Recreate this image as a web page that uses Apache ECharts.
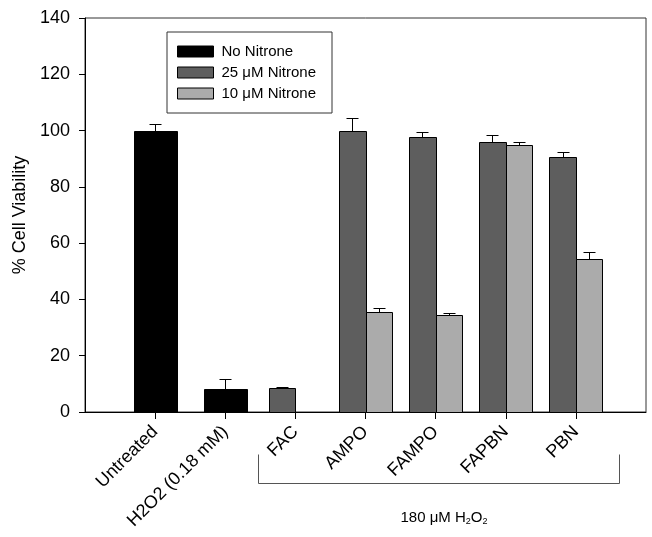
<!DOCTYPE html>
<html>
<head>
<meta charset="utf-8">
<script src="https://cdn.jsdelivr.net/npm/echarts@6/dist/echarts.min.js"></script>
<style>html,body{margin:0;padding:0;background:#fff}#c{width:652px;height:537px}</style>
</head>
<body>
<div id="c"></div>
<script>
const categories = ['Untreated', 'H2O2 (0.18 mM)', 'FAC', 'AMPO', 'FAMPO', 'FAPBN', 'PBN'];
const noNitrone    = [100.0, 8.2, null, null, null, null, null];
const noNitroneErr = [2.2, 3.4, null, null, null, null, null];
const nitrone25    = [null, null, 8.6, 99.7, 97.6, 95.8, 90.5];
const nitrone25Err = [null, null, 0.4, 4.6, 1.9, 2.7, 1.8];
const nitrone10    = [null, null, null, 35.5, 34.4, 94.8, 54.3];
const nitrone10Err = [null, null, null, 1.5, 0.7, 1.3, 2.7];
const yTicks = [0, 20, 40, 60, 80, 100, 120, 140];
const bracketLabel = '180 μM H{s|2}O{s|2}';

const FONT = "'Liberation Sans', Arial, Helvetica, sans-serif";
const C_BLACK = '#000000', C_DARK = '#5e5e5e', C_LIGHT = '#ababab';
const PAIR_W = 0.378, SOLO_W = 0.613;

function toData(vals, errs) {
  const out = [];
  vals.forEach((v, i) => { if (v != null) out.push([i + 1, v, errs[i] || 0]); });
  return out;
}

function barRenderer(off0, off1, color) {
  return function (params, api) {
    const x = api.value(0), y = api.value(1);
    const p0 = api.coord([x + off0, 0]);
    const p1 = api.coord([x + off1, y]);
    return {
      type: 'rect',
      shape: { x: Math.round(p0[0]) + 0.5, y: Math.round(p1[1]) + 0.5,
               width: Math.round(p1[0]) - Math.round(p0[0]),
               height: Math.round(p0[1]) - Math.round(p1[1]) },
      style: { fill: color, stroke: '#000', lineWidth: 1 }
    };
  };
}
function errRenderer(center) {
  return function (params, api) {
    const x = api.value(0), y = api.value(1), e = api.value(2);
    const a = api.coord([x + center, y]);
    const b = api.coord([x + center, y + e]);
    const cx = Math.round(a[0]) + 0.5, ty = Math.round(b[1]) + 0.5;
    return {
      type: 'group',
      children: [
        { type: 'line', shape: { x1: cx, y1: Math.round(a[1]), x2: cx, y2: ty }, style: { stroke: '#000', lineWidth: 1 } },
        { type: 'line', shape: { x1: cx - 6, y1: ty, x2: cx + 6, y2: ty }, style: { stroke: '#000', lineWidth: 1 } }
      ]
    };
  };
}

const chart = echarts.init(document.getElementById('c'));
const option = {
  animation: false,
  backgroundColor: '#fff',
  textStyle: { fontFamily: FONT },
  grid: { left: 85, right: 6, top: 18, bottom: 125, show: true, borderColor: '#333', borderWidth: 1, backgroundColor: 'transparent' },
  legend: {
    orient: 'vertical', left: 167, top: 32,
    padding: [12, 16, 12, 10], itemGap: 6, itemWidth: 36, itemHeight: 11,
    borderColor: '#333', borderWidth: 1,
    textStyle: { fontSize: 15, color: '#000', fontFamily: FONT, padding: [0, 0, 0, 3] },
    data: [
      { name: 'No Nitrone', icon: 'rect', itemStyle: { color: C_BLACK, borderColor: '#000', borderWidth: 1 } },
      { name: '25 μM Nitrone', icon: 'rect', itemStyle: { color: C_DARK, borderColor: '#000', borderWidth: 1 } },
      { name: '10 μM Nitrone', icon: 'rect', itemStyle: { color: C_LIGHT, borderColor: '#000', borderWidth: 1 } }
    ],
    selectedMode: false
  },
  xAxis: {
    type: 'value', min: 0, max: categories.length + 1, interval: 1,
    splitLine: { show: false },
    axisLine: { lineStyle: { color: '#000', width: 1 } },
    axisTick: { show: true, length: 7, lineStyle: { color: '#000' }, customValues: categories.map((c, i) => i + 1) },
    axisLabel: {
      customValues: categories.map((c, i) => i + 1),
      formatter: v => categories[v - 1] || '',
      rotate: 45, margin: 17, fontSize: 18, color: '#000', fontFamily: FONT
    }
  },
  yAxis: {
    type: 'value', min: yTicks[0], max: yTicks[yTicks.length - 1], interval: 20,
    name: '% Cell Viability', nameLocation: 'middle', nameGap: 55,
    nameTextStyle: { fontSize: 18, color: '#000', fontFamily: FONT },
    splitLine: { show: false },
    axisLine: { show: true, lineStyle: { color: '#000', width: 1 } },
    axisTick: { show: true, length: 6, lineStyle: { color: '#000' } },
    axisLabel: { fontSize: 18, color: '#000', margin: 15, fontFamily: FONT }
  },
  series: [
    { name: 'No Nitrone', type: 'custom', itemStyle: { color: C_BLACK }, encode: { x: 0, y: 1 },
      data: toData(noNitrone, noNitroneErr), renderItem: barRenderer(-SOLO_W / 2, SOLO_W / 2, C_BLACK) },
    { name: '25 μM Nitrone', type: 'custom', itemStyle: { color: C_DARK }, encode: { x: 0, y: 1 },
      data: toData(nitrone25, nitrone25Err), renderItem: barRenderer(-PAIR_W, 0, C_DARK) },
    { name: '10 μM Nitrone', type: 'custom', itemStyle: { color: C_LIGHT }, encode: { x: 0, y: 1 },
      data: toData(nitrone10, nitrone10Err), renderItem: barRenderer(0, PAIR_W, C_LIGHT) },
    { name: 'errNo', type: 'custom', encode: { x: 0, y: 1 }, z: 3,
      data: toData(noNitrone, noNitroneErr), renderItem: errRenderer(0) },
    { name: 'err25', type: 'custom', encode: { x: 0, y: 1 }, z: 3,
      data: toData(nitrone25, nitrone25Err), renderItem: errRenderer(-PAIR_W / 2) },
    { name: 'err10', type: 'custom', encode: { x: 0, y: 1 }, z: 3,
      data: toData(nitrone10, nitrone10Err), renderItem: errRenderer(PAIR_W / 2) }
  ]
};
chart.setOption(option);

// bracket under the 180 µM H2O2 group
const bl = chart.convertToPixel({ xAxisIndex: 0, yAxisIndex: 0 }, [2.47, 0]);
const br = chart.convertToPixel({ xAxisIndex: 0, yAxisIndex: 0 }, [7.61, 0]);
const yTop = Math.round(bl[1]) + 42.5, yBot = Math.round(bl[1]) + 71.5;
const xl = Math.round(bl[0]) + 0.5, xr = Math.round(br[0]) + 0.5;
chart.setOption({
  graphic: [
    { type: 'polyline', silent: true, shape: { points: [[xl, yTop], [xl, yBot], [xr, yBot], [xr, yTop]] },
      style: { stroke: '#555', lineWidth: 1, fill: null } },
    { type: 'text', silent: true, x: (xl + xr) / 2 + 5, y: Math.round(bl[1]) + 106,
      style: { text: bracketLabel, align: 'center', verticalAlign: 'middle', fontSize: 15, fontFamily: FONT, fill: '#000',
        rich: { s: { fontSize: 9, fontFamily: FONT, fill: '#000', padding: [8, 0, 0, 0] } } } }
  ]
});
</script>
</body>
</html>
